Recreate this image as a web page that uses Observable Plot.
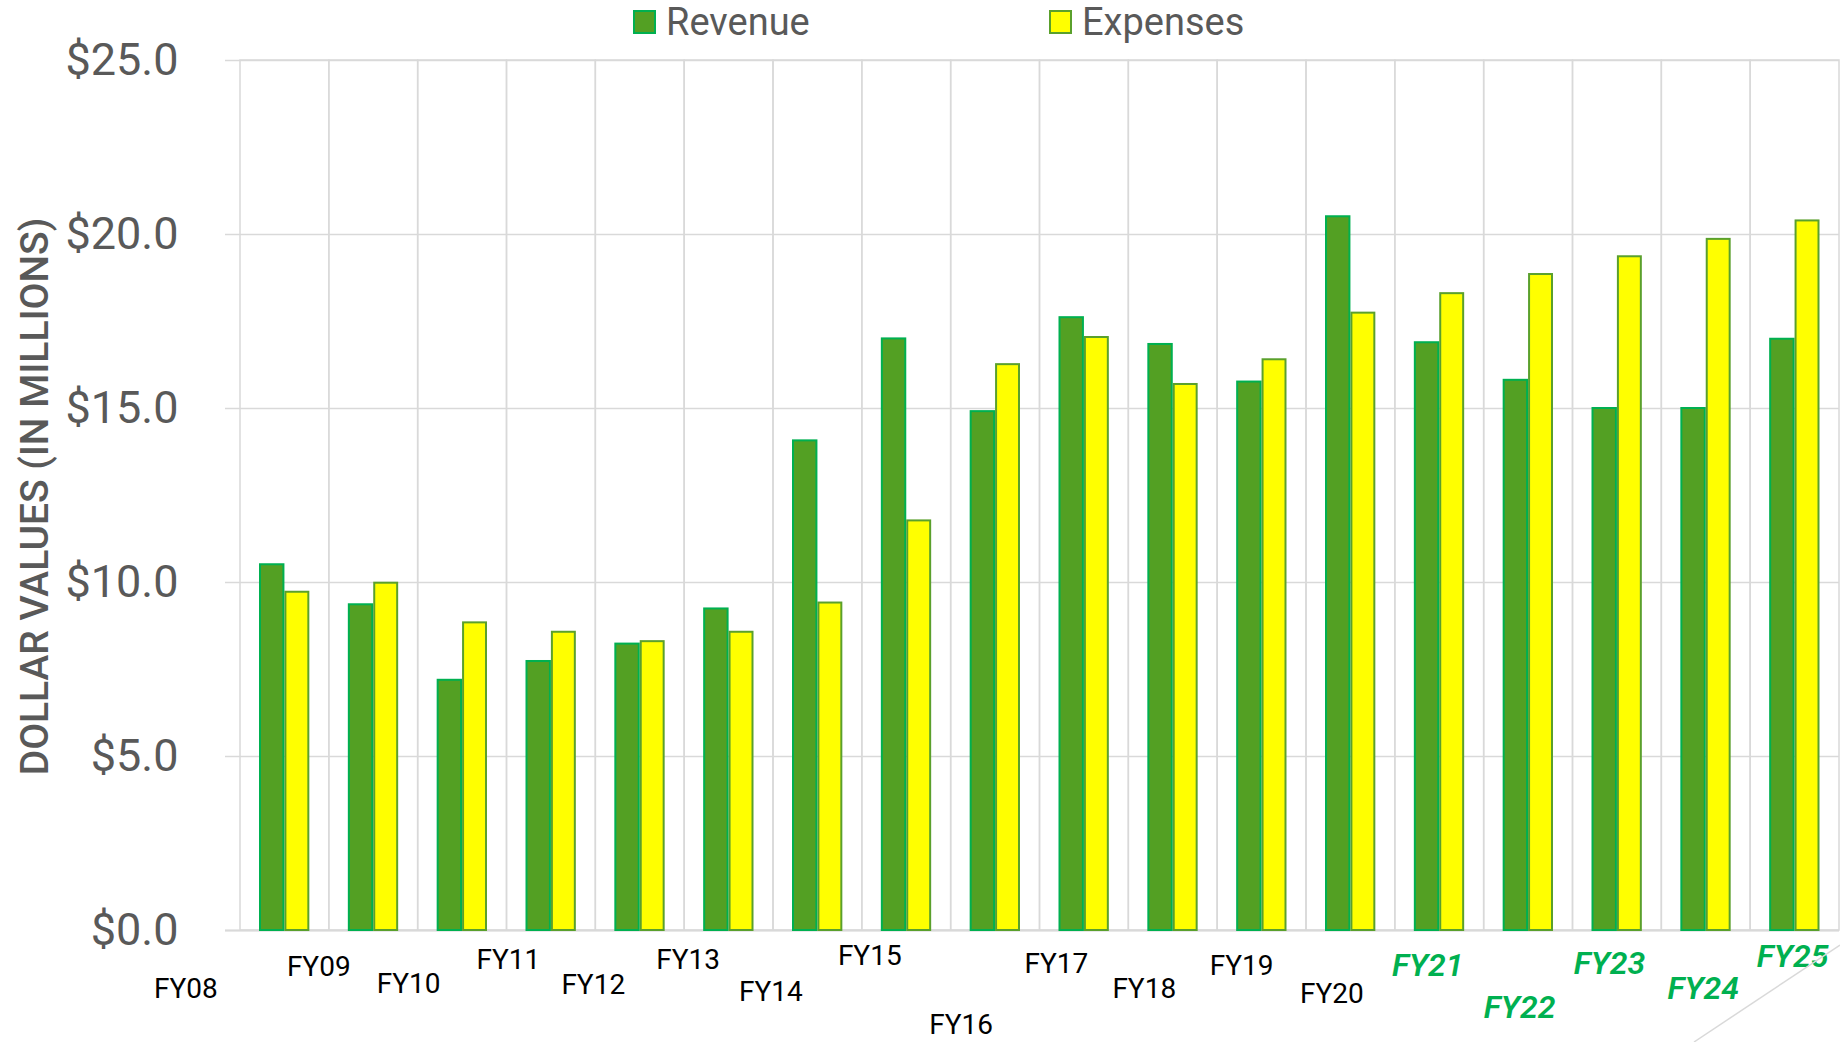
<!DOCTYPE html>
<html>
<head>
<meta charset="utf-8">
<script src="https://cdn.jsdelivr.net/npm/d3@7"></script>
<script src="https://cdn.jsdelivr.net/npm/@observablehq/plot@0.6"></script>
<style>
  body { margin: 0; background: #fff; }
  #wrap { position: relative; width: 1840px; height: 1042px; overflow: hidden; font-family: Roboto, sans-serif; }
  .leg { position: absolute; top: 3px; display: flex; align-items: center; font-size: 38px; color: #595959; line-height: 38px; }
  .sw { display: inline-block; width: 19px; height: 20px; margin-right: 10px; border: 2px solid; }
  #diag { position: absolute; left: 0; top: 0; pointer-events: none; }
</style>
</head>
<body>
<div id="wrap">
  <div id="chart"></div>
  <div class="leg" style="left:633px"><span class="sw" style="background:#53A023;border-color:#00B050"></span>Revenue</div>
  <div class="leg" style="left:1049px"><span class="sw" style="background:#FFFF00;border-color:#5AA02C"></span>Expenses</div>
  <svg id="diag" width="1840" height="1042"><line x1="1694" y1="1042" x2="1840" y2="945" stroke="#d9d9d9" stroke-width="1.5"/></svg>
</div>
<script>
// ---- data ----
const years = ["FY08","FY09","FY10","FY11","FY12","FY13","FY14","FY15","FY16","FY17","FY18","FY19","FY20","FY21","FY22","FY23","FY24","FY25"];
const revenue = [10.51, 9.36, 7.19, 7.73, 8.23, 9.24, 14.07, 17.0, 14.91, 17.61, 16.84, 15.76, 20.51, 16.89, 15.81, 15.0, 15.0, 16.99];
const expenses = [9.72, 9.98, 8.84, 8.57, 8.30, 8.57, 9.41, 11.77, 16.26, 17.04, 15.69, 16.40, 17.74, 18.30, 18.85, 19.36, 19.86, 20.39];
const projected = ["FY21","FY22","FY23","FY24","FY25"];
const yTicks = [0, 5, 10, 15, 20, 25];
const yLabel = "DOLLAR VALUES (IN MILLIONS)";

// ---- layout (label placement offsets, px) ----
const labelDx = [-99, -55, -54, -43, -47, -41, -47, -37, -34.5, -28, -29, -20.5, -19, -12, -9, -8, -3, -2.5];
const labelDy = [59, 36.5, 54, 30, 54.5, 30, 61.5, 25.5, 94.5, 33.5, 59, 35.5, 64, 35.5, 77, 33.5, 58, 26.5];

const revData = years.map((y, i) => ({year: y, value: revenue[i]}));
const expData = years.map((y, i) => ({year: y, value: expenses[i]}));

const labelMarks = years.map((yr, i) => {
  const proj = projected.includes(yr);
  return Plot.text([yr], {
    x: d => d, text: d => d, frameAnchor: "bottom", lineAnchor: "middle", textAnchor: "middle",
    dx: labelDx[i], dy: labelDy[i],
    fontSize: proj ? 32 : 28,
    fontWeight: proj ? 600 : "normal",
    fontStyle: proj ? "italic" : "normal",
    fill: proj ? "#00B050" : "#000000"
  });
});

const chart = Plot.plot({
  width: 1840,
  height: 1042,
  marginTop: 60,
  marginBottom: 112,
  marginLeft: 225,
  marginRight: 1,
  x: {type: "band", domain: years, padding: 0, round: false, insetLeft: 15, axis: null},
  y: {domain: [0, 25], axis: null},
  style: {fontFamily: "Roboto, sans-serif", background: "white", overflow: "visible"},
  marks: [
    Plot.gridY(yTicks, {stroke: "#d9d9d9", strokeOpacity: 1, strokeWidth: 1.5}),
    Plot.barY(years, {x: d => d, y1: () => 0, y2: () => 25, fill: "none", stroke: "#d9d9d9", strokeWidth: 1.5}),
    Plot.ruleY([0], {stroke: "#d9d9d9", strokeWidth: 2}),
    Plot.barY(revData, {x: "year", y: "value", fill: "#53A023", stroke: "#00B050", strokeWidth: 2, insetLeft: 20, insetRight: 45.4}),
    Plot.barY(expData, {x: "year", y: "value", fill: "#FFFF00", stroke: "#5AA02C", strokeWidth: 2, insetLeft: 45.4, insetRight: 20.5}),
    Plot.axisY(yTicks, {tickFormat: d => "$" + d.toFixed(1), tickSize: 0, tickPadding: 47, fontSize: 45, color: "#595959", label: null}),
    Plot.text([yLabel], {text: d => d, frameAnchor: "left", textAnchor: "middle", lineAnchor: "middle", rotate: -90, dx: -190, dy: 1, fontSize: 39, fontWeight: 500, fill: "#595959"}),
    ...labelMarks
  ]
});
document.getElementById("chart").appendChild(chart);
</script>
</body>
</html>
